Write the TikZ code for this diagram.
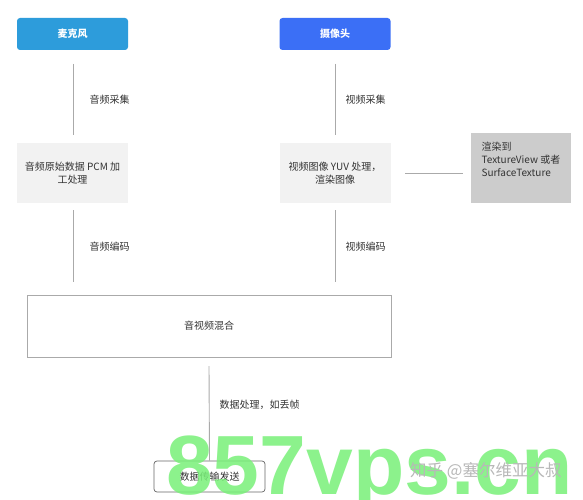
\documentclass[tikz,border=0pt]{standalone}
\usepackage{fontspec}
\setmainfont{Noto Sans CJK SC}
\newfontfamily\wmfont{Liberation Sans}
\definecolor{micblue}{RGB}{45,156,219}
\definecolor{cambblue}{RGB}{59,111,246}
\definecolor{procgray}{RGB}{242,242,242}
\definecolor{rendgray}{RGB}{204,204,204}
\definecolor{linegray}{RGB}{170,170,170}
\definecolor{wmgreen}{RGB}{120,240,120}
\begin{document}
\begin{tikzpicture}[x=1pt,y=-1pt,
  txt/.style={font=\fontsize{10}{13}\selectfont, text=black!80},
  srcbox/.style={rounded corners=3pt, minimum width=111pt, minimum height=32pt, inner sep=0pt, text=white, font=\fontsize{10}{13}\selectfont\bfseries},
  procbox/.style={fill=procgray, minimum width=111pt, minimum height=60pt, inner sep=0pt, align=center, txt},
  conn/.style={draw=linegray, line width=0.9pt},
  lbl/.style={txt, anchor=west}]
\useasboundingbox (0,0) rectangle (583,500);
\fill[white] (0,0) rectangle (583,500);
% sources
\node[srcbox, fill=micblue] (mic) at (72.5,34) {麦克风};
\node[srcbox, fill=cambblue] (cam) at (335,34) {摄像头};
% processing
\node[procbox] (aproc) at (72.5,173) {音频原始数据 PCM 加\\工处理};
\node[procbox] (vproc) at (335,173) {视频图像 YUV 处理，\\渲染图像};
\node[fill=rendgray, minimum width=100pt, minimum height=70pt, inner sep=0pt] (rend) at (521,168) {};
\node[txt, align=left, anchor=north west] (rendt) at (478,139) {渲染到\\TextureView 或者\\SurfaceTexture};
% mix
\node[draw=linegray, line width=0.8pt, minimum width=364pt, minimum height=62pt, inner sep=0pt, txt] (mix) at (209,326) {音视频混合};
% send
\node[draw=black!60, rounded corners=3pt, line width=0.7pt, minimum width=111pt, minimum height=31pt, inner sep=0pt, txt] (send) at (209.5,476.5) {数据传输发送};
% connectors
\coordinate (a1) at (73,64); \coordinate (a2) at (73,135);
\coordinate (v1) at (335,64); \coordinate (v2) at (335,135);
\coordinate (a3) at (73,210); \coordinate (a4) at (73,282);
\coordinate (v3) at (335,210); \coordinate (v4) at (335,282);
\coordinate (r1) at (405,173); \coordinate (r2) at (463,173);
\coordinate (m1) at (209,366);
\draw[conn] (a1) -- (a2);
\draw[conn] (v1) -- (v2);
\draw[conn] (a3) -- (a4);
\draw[conn] (v3) -- (v4);
\draw[conn] (r1) -- (r2);
\draw[conn] (m1) -- (send.north);
% labels
\node[lbl] (l1) at (86,100) {音频采集};
\node[lbl] (l2) at (342,100) {视频采集};
\node[lbl] (l3) at (86,247) {音频编码};
\node[lbl] (l4) at (342,247) {视频编码};
\node[lbl] (l5) at (216,405) {数据处理，如丢帧};
% watermarks
\node[anchor=base west, inner sep=0pt, text=wmgreen, opacity=0.85, font=\wmfont\bfseries\fontsize{84}{84}\selectfont] (wm) at (166,494) {857vps.cn};
\node[anchor=west, inner sep=0pt, text=black!28, font=\fontsize{16.5}{18}\selectfont] (zh) at (410,471) {知乎 @塞尔维亚大叔};
\end{tikzpicture}
\end{document}
